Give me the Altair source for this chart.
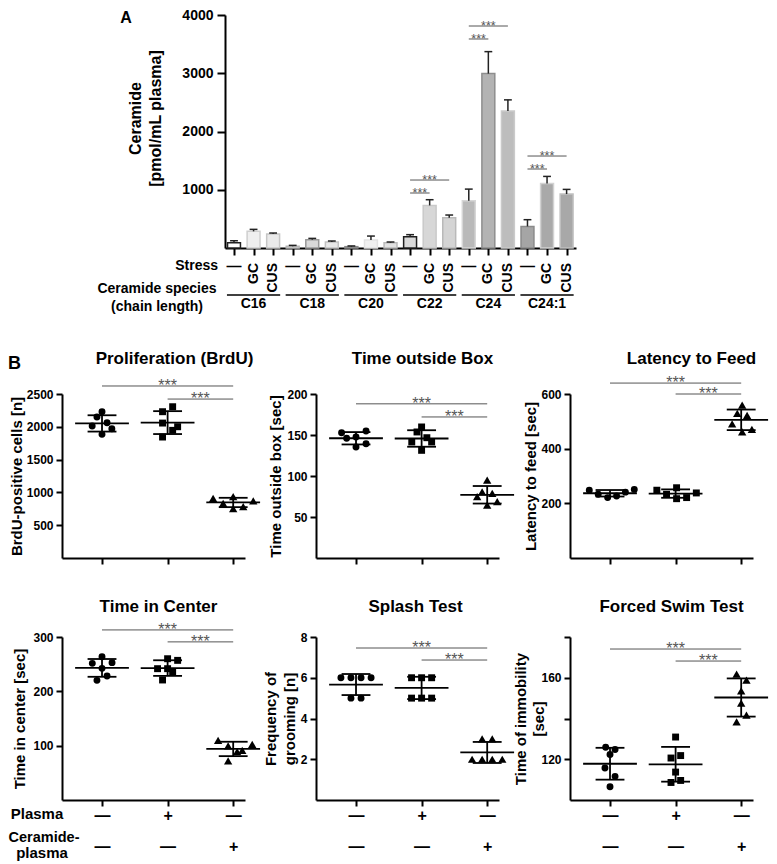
import json
import altair as alt
import pandas as pd

FONT = "Liberation Sans"

# ---------------- Panel A values ----------------
species = ["C16", "C18", "C20", "C22", "C24", "C24:1"]
stress = ["—", "GC", "CUS"]
ceramide_mean = [90, 286, 240, 30, 143, 103, 23, 137, 91, 194, 731, 520, 811, 2994, 2354, 371, 1109, 926]
ceramide_upper = [125, 320, 257, 45, 165, 120, 35, 205, 103, 229, 829, 566, 1011, 3371, 2543, 486, 1229, 1006]
a_sig_from = [9, 9, 12, 12, 15, 15]
a_sig_to = [10, 11, 13, 14, 16, 17]
a_sig_height = [944, 1167, 3588, 3811, 1356, 1579]

# bar styles (fill / outline), one per bar
bar_fill = ["#ffffff", "#efefef", "#eaeaea", "#e6e6e6", "#d9d9d9", "#e8e8e8",
            "#d2d2d2", "#f0f0f0", "#e2e2e2", "#d9d9d9", "#d7d7d7", "#d4d4d4",
            "#b9b9b9", "#b3b3b3", "#bdbdbd", "#a5a5a5", "#a9a9a9", "#a8a8a8"]
bar_stroke = ["#222222", "#cfcfcf", "#c6c6c6", "#b5b5b5", "#999999", "#c2c2c2",
              "#888888", "#e2e2e2", "#bbbbbb", "#1e1e1e", "#c9c9c9", "#b9b9b9",
              "#d6d6d6", "#8e8e8e", "#cacaca", "#8a8a8a", "#d2d2d2", "#c0c0c0"]

# ---------------- Panel B values ----------------
groups = ["ctrl", "plasma", "cer"]
plasma_row = ["—", "+", "—"]
cer_row = ["—", "—", "+"]

prolif_vals = [[2230, 2149, 2062, 2012, 1971, 1885],
               [2306, 2230, 2057, 2001, 1946, 1844],
               [909, 934, 833, 782, 869, 752]]
prolif_offs = [[0, -0.077, 0.077, -0.15, 0.15, 0],
               [0.077, -0.077, -0.077, 0.153, 0.077, -0.077],
               [-0.306, 0, -0.153, 0.153, 0.306, 0]]
prolif_sig = [2622, 2423]

outside_vals = [[152.8, 154.9, 146.0, 147.6, 135.4, 139.4],
                [159.8, 153.7, 146.7, 141.5, 141.5, 131.3],
                [95.1, 80.5, 78.9, 74.8, 68.7, 64.6]]
outside_offs = [[-0.22, 0.153, -0.143, 0, 0, 0.153],
                [0, -0.07, 0.08, -0.15, 0.153, 0],
                [0, -0.077, 0.077, -0.153, 0.153, 0]]
outside_sig = [188, 172]

latency_vals = [[248, 233, 221, 227, 241, 251],
                [248, 233, 257, 217, 221, 238],
                [559, 529, 522, 491, 461, 471]]
latency_offs = [[-0.316, -0.18, -0.036, 0.1, 0.235, 0.37],
                [-0.286, -0.138, 0.015, 0.015, 0.168, 0.316],
                [0.015, -0.06, 0.09, -0.138, 0.015, 0.163]]
latency_sig = [640, 600]

center_vals = [[263.8, 251.5, 252.8, 242.3, 228.2, 220.2],
               [260.0, 257.0, 241.7, 241.7, 235.6, 220.9],
               [109.8, 99.4, 102.5, 88.9, 91.4, 71.8]]
center_offs = [[0, -0.148, 0.153, 0, 0.077, -0.077],
               [0, 0.153, -0.153, 0, 0.077, -0.077],
               [-0.23, -0.077, 0.29, 0.06, 0.138, -0.077]]
center_sig = [313, 291]

splash_vals = [[6, 6, 6, 6, 5, 5],
               [6, 6, 6, 5, 5, 5],
               [3, 3, 2, 2, 2, 2]]
splash_offs = [[-0.23, -0.077, 0.077, 0.23, -0.077, 0.077],
               [-0.153, 0, 0.153, -0.153, 0, 0.153],
               [-0.077, 0.077, -0.23, -0.077, 0.077, 0.23]]
splash_sig = [7.46, 6.87]

swim_vals = [[125.9, 124.8, 122.3, 115.7, 111.6, 106.5],
             [130.9, 121.8, 120.6, 113.7, 109.6, 108.6],
             [161.8, 158.8, 153.6, 147.5, 141.7, 138.4]]
swim_offs = [[-0.066, 0.077, 0, -0.077, 0.077, 0],
             [0, 0.077, -0.07, 0, 0.077, -0.07],
             [-0.07, 0.08, 0, 0, 0.08, -0.07]]
swim_sig = [174.1, 168.2]

SIG_COLOR = "#555555"

axis_common = dict(grid=False, domainColor="black", tickColor="black", domainWidth=2, tickWidth=2,
                   labelColor="black", titleColor="black", labelFont=FONT, titleFont=FONT,
                   labelFontWeight="bold", titleFontWeight="bold")
one = pd.DataFrame({"k": [0]})

# ======================= Panel A =======================
HA, WA = 233, 351
bids = [f"b{i}" for i in range(18)]
df_a = pd.DataFrame({
    "i": list(range(18)),
    "bid": bids,
    "sp": [species[i // 3] for i in range(18)],
    "st": [stress[i % 3] for i in range(18)],
    "v": ceramide_mean,
    "e": ceramide_upper,
})
df_asig = pd.DataFrame({"f": a_sig_from, "t": a_sig_to, "y": a_sig_height})
df_grp = pd.DataFrame({"sp": species, "s": [3 * k for k in range(6)]})

xa = alt.Scale(domain=[-0.46, 17.48], nice=False, zero=False)
ya = alt.Scale(domain=[0, 4000], nice=False, zero=False)
a_xaxis = alt.Axis(values=list(range(18)), labels=False, title=None, tickSize=7, **axis_common)
a_yaxis = alt.Axis(values=[1000, 2000, 3000, 4000], format="d", title=["Ceramide", "[pmol/mL plasma]"],
                   titleX=-82, titleY=103, titleLineHeight=20, titleFontSize=16,
                   labelFontSize=14, labelPadding=4, tickSize=8, **axis_common)


def AX(field):
    return alt.X(field, scale=xa, axis=a_xaxis)


def AY(field):
    return alt.Y(field, scale=ya, axis=a_yaxis)


a_base = alt.Chart(df_a)
bars = a_base.transform_calculate(x1="datum.i - 0.33", x2="datum.i + 0.33", z="0").mark_bar(strokeWidth=1.5).encode(
    x=AX("x1:Q"), x2="x2:Q", y=AY("v:Q"), y2="z:Q",
    color=alt.Color("bid:N", scale=alt.Scale(domain=bids, range=bar_fill), legend=None),
    stroke=alt.Stroke("bid:N", scale=alt.Scale(domain=bids, range=bar_stroke), legend=None),
)
err_v = a_base.mark_rule(color="#222222", strokeWidth=1.5).encode(x=AX("i:Q"), y=AY("v:Q"), y2="e:Q")
err_c = a_base.transform_calculate(c1="datum.i - 0.2", c2="datum.i + 0.2").mark_rule(
    color="#222222", strokeWidth=1.5).encode(x=AX("c1:Q"), x2="c2:Q", y=AY("e:Q"))
a_sig_l = alt.Chart(df_asig).mark_rule(color=SIG_COLOR, strokeWidth=1).encode(x=AX("f:Q"), x2="t:Q", y=AY("y:Q"))
a_sig_t = alt.Chart(df_asig).transform_calculate(mid="(datum.f + datum.t) / 2").mark_text(
    text="***", fontSize=12.5, color=SIG_COLOR, baseline="alphabetic", dy=4).encode(x=AX("mid:Q"), y=AY("y:Q"))
dash_lbl = a_base.transform_filter("datum.st == '—'").mark_text(
    fontSize=15, fontWeight="bold", color="black", baseline="middle", align="center").encode(
    x=AX("i:Q"), y=alt.value(HA + 18), text="st:N")
rot_lbl = a_base.transform_filter("datum.st != '—'").mark_text(
    fontSize=14, fontWeight="bold", color="black", baseline="middle", align="right", angle=270).encode(
    x=AX("i:Q"), y=alt.value(HA + 15), text="st:N")
grp_line = alt.Chart(df_grp).transform_calculate(g1="datum.s - 0.36", g2="datum.s + 2.36").mark_rule(
    color="black", strokeWidth=1.5).encode(x=AX("g1:Q"), x2="g2:Q", y=alt.value(HA + 47))
grp_lbl = alt.Chart(df_grp).transform_calculate(m="datum.s + 1").mark_text(
    fontSize=14, fontWeight="bold", color="black", baseline="middle").encode(
    x=AX("m:Q"), y=alt.value(HA + 56), text="sp:N")
lbl_stress = alt.Chart(one).mark_text(text="Stress", fontSize=14, fontWeight="bold", color="black",
                                      align="right", baseline="middle").encode(x=alt.value(-7), y=alt.value(HA + 18))
lbl_species = alt.Chart(one).mark_text(text="Ceramide species", fontSize=14, fontWeight="bold", color="black",
                                       align="center", baseline="middle").encode(x=alt.value(-68), y=alt.value(HA + 41))
lbl_chain = alt.Chart(one).mark_text(text="(chain length)", fontSize=14, fontWeight="bold", color="black",
                                     align="center", baseline="middle").encode(x=alt.value(-68), y=alt.value(HA + 59))
lbl_A = alt.Chart(one).mark_text(text="A", fontSize=16, fontWeight="bold", color="black",
                                 align="center", baseline="alphabetic").encode(x=alt.value(-99), y=alt.value(8))
spacer_A = alt.Chart(one).mark_rule(opacity=0).encode(x=alt.value(0), y=alt.value(-14), y2=alt.value(-13))

panel_a = alt.layer(bars, err_v, err_c, a_sig_l, a_sig_t, dash_lbl, rot_lbl, grp_line, grp_lbl,
                    lbl_stress, lbl_species, lbl_chain, lbl_A, spacer_A).properties(width=WA, height=HA)

# invisible 1px cell that lets panel A sit to the right of the first B column
dummy = alt.Chart(one).mark_rule(opacity=0).encode(
    x=alt.value(0), y=alt.value(0), y2=alt.value(1)).properties(width=1, height=1)
row_a = alt.hconcat(dummy, panel_a, spacing=162, bounds="flush")

# ======================= Panel B =======================
WB = 183


def b_panel(vals, offs, sig_y, ydomain, yvalues, ylabeled, ytitle, title_x, title_lh,
            title, t_dx, t_offset, height, bottom, extras=()):
    rows = []
    for gi in range(3):
        for v, o in zip(vals[gi], offs[gi]):
            rows.append({"gi": gi, "grp": groups[gi], "off": o, "v": v})
    df = pd.DataFrame(rows)
    xs = alt.Scale(domain=[-0.61, 2.18], nice=False, zero=False)
    ys = alt.Scale(domain=ydomain, nice=False, zero=False)
    if bottom:
        lexpr = f"[{json.dumps(plasma_row)}[datum.value], {json.dumps(cer_row)}[datum.value]]"
        xaxis = alt.Axis(values=[0, 1, 2], title=None, tickSize=6, labelExpr=lexpr, labelFontSize=16,
                         labelLineHeight=31, labelBaseline="alphabetic", labelPadding=14, **axis_common)
    else:
        xaxis = alt.Axis(values=[0, 1, 2], title=None, tickSize=6, labels=False, **axis_common)
    yaxis = alt.Axis(values=yvalues, format="d",
                     labelExpr=f"indexof({json.dumps(ylabeled)}, datum.value) >= 0 ? datum.label : ''",
                     title=ytitle, titleX=title_x, titleY=height / 2, titleLineHeight=title_lh, titleFontSize=15,
                     labelFontSize=12, labelPadding=3, tickSize=6, **axis_common)

    def BX(f):
        return alt.X(f, scale=xs, axis=xaxis)

    def BY(f):
        return alt.Y(f, scale=ys, axis=yaxis)

    base = alt.Chart(df)
    pts = base.transform_calculate(xp="datum.gi + datum.off").mark_point(
        filled=True, opacity=1, color="black", strokeWidth=0).encode(
        x=BX("xp:Q"), y=BY("v:Q"),
        shape=alt.Shape("grp:N", scale=alt.Scale(domain=groups, range=["circle", "square", "triangle-up"]),
                        legend=None),
        size=alt.condition("datum.grp == 'cer'", alt.value(70), alt.value(48)),
    )
    stats = base.transform_aggregate(m="mean(v)", sd="stdev(v)", groupby=["gi"]).transform_calculate(
        lo="datum.m - datum.sd", hi="datum.m + datum.sd",
        a1="datum.gi - 0.41", a2="datum.gi + 0.41", b1="datum.gi - 0.22", b2="datum.gi + 0.22")
    mean_l = stats.mark_rule(color="black", strokeWidth=1.8).encode(x=BX("a1:Q"), x2="a2:Q", y=BY("m:Q"))
    sd_hi = stats.mark_rule(color="black", strokeWidth=1.8).encode(x=BX("b1:Q"), x2="b2:Q", y=BY("hi:Q"))
    sd_lo = stats.mark_rule(color="black", strokeWidth=1.8).encode(x=BX("b1:Q"), x2="b2:Q", y=BY("lo:Q"))
    sd_v = stats.mark_rule(color="black", strokeWidth=1.8).encode(x=BX("gi:Q"), y=BY("lo:Q"), y2="hi:Q")
    sig_df = pd.DataFrame({"f": [0, 1], "t": [2, 2], "y": sig_y})
    sig_l = alt.Chart(sig_df).mark_rule(color=SIG_COLOR, strokeWidth=1).encode(x=BX("f:Q"), x2="t:Q", y=BY("y:Q"))
    sig_t = alt.Chart(sig_df).transform_calculate(mid="(datum.f + datum.t) / 2").mark_text(
        text="***", fontSize=16, color=SIG_COLOR, baseline="alphabetic", dy=5).encode(x=BX("mid:Q"), y=BY("y:Q"))
    ttl = alt.Chart(one).mark_text(text=title, fontSize=17, fontWeight="bold", color="black",
                                   align="center", baseline="alphabetic").encode(
        x=alt.value(WB / 2 + t_dx), y=alt.value(-t_offset))
    layers = [pts, mean_l, sd_hi, sd_lo, sd_v, sig_l, sig_t, ttl] + list(extras)
    return alt.layer(*layers).properties(width=WB, height=height)


H1, H2 = 164, 163
spacer_B = alt.Chart(one).mark_rule(opacity=0).encode(x=alt.value(-61), y=alt.value(10), y2=alt.value(11))
lbl_B = alt.Chart(one).mark_text(text="B", fontSize=18, fontWeight="bold", color="black",
                                 align="left", baseline="alphabetic").encode(x=alt.value(-54), y=alt.value(-25))
lbl_plasma = alt.Chart(one).mark_text(text="Plasma", fontSize=15, fontWeight="bold", color="black",
                                      align="center", baseline="alphabetic").encode(x=alt.value(-25), y=alt.value(H2 + 19))
lbl_cer1 = alt.Chart(one).mark_text(text="Ceramide-", fontSize=14.5, fontWeight="bold", color="black",
                                    align="center", baseline="alphabetic").encode(x=alt.value(-18), y=alt.value(H2 + 42))
lbl_cer2 = alt.Chart(one).mark_text(text="plasma", fontSize=15, fontWeight="bold", color="black",
                                    align="center", baseline="alphabetic").encode(x=alt.value(-20), y=alt.value(H2 + 58))

p_prolif = b_panel(prolif_vals, prolif_offs, prolif_sig, [0, 2500], [500, 1000, 1500, 2000, 2500],
                   [500, 1000, 1500, 2000, 2500], "BrdU-positive cells [n]", -38, 18,
                   "Proliferation (BrdU)", 21, 30, H1, False, extras=[spacer_B, lbl_B])
p_outside = b_panel(outside_vals, outside_offs, outside_sig, [0, 200], [50, 100, 150, 200],
                    [50, 100, 150, 200], "Time outside box [sec]", -33, 18,
                    "Time outside Box", 15, 30, H1, False)
p_latency = b_panel(latency_vals, latency_offs, latency_sig, [0, 600], [200, 400, 600],
                    [200, 400, 600], "Latency to feed [sec]", -32, 18,
                    "Latency to Feed", 30, 30, H1, False)
p_center = b_panel(center_vals, center_offs, center_sig, [0, 300], [100, 200, 300],
                   [100, 200, 300], "Time in center [sec]", -35, 18,
                   "Time in Center", 5, 25, H2, True, extras=[spacer_B, lbl_plasma, lbl_cer1, lbl_cer2])
p_splash = b_panel(splash_vals, splash_offs, splash_sig, [0, 8], [2, 4, 6, 8],
                   [2, 4, 6, 8], ["Frequency of", "grooming [n]"], -38, 19,
                   "Splash Test", 8, 25, H2, True)
p_swim = b_panel(swim_vals, swim_offs, swim_sig, [100, 180], [120, 140, 160, 180],
                 [120, 160], ["Time of immobility", "[sec]"], -42, 18,
                 "Forced Swim Test", 10, 25, H2, True)

row1 = alt.hconcat(p_prolif, p_outside, p_latency, spacing=71, bounds="flush")
row2 = alt.hconcat(p_center, p_splash, p_swim, spacing=71, bounds="flush")
rows_b = alt.vconcat(row1, row2, spacing=33)

chart = alt.vconcat(row_a, rows_b, spacing=36).configure(font=FONT).configure_view(stroke=None)

try:
    chart = chart.properties(padding={"left": -7, "top": -7, "right": 0, "bottom": 0})
except Exception:
    chart = chart.properties(padding={"left": 0, "top": 0, "right": 0, "bottom": 0})

chart.save("out.html", embed_options={"renderer": "svg", "actions": False})
